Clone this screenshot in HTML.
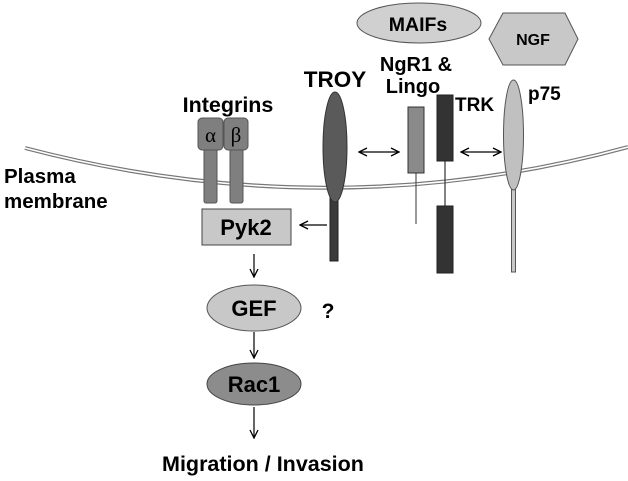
<!DOCTYPE html>
<html><head><meta charset="utf-8"><style>
body{margin:0;background:#fff}
svg{display:block;font-family:"Liberation Sans",Arial,sans-serif;font-weight:bold}
</style></head><body>
<svg width="628" height="481" viewBox="0 0 628 481">
<defs><marker id="ah" markerWidth="10" markerHeight="10" refX="9" refY="5" orient="auto-start-reverse" markerUnits="userSpaceOnUse"><path d="M1,1 L9,5 L1,9" fill="none" stroke="#000" stroke-width="1.3"/></marker></defs>
<g>
<path d="M25,148 Q330,228 628,147" fill="none" stroke="#777" stroke-width="4"/>
<path d="M25,148 Q330,228 628,147" fill="none" stroke="#fff" stroke-width="1.6"/>
</g>
<text x="4" y="183" font-size="20.5">Plasma</text>
<text x="4" y="208" font-size="20.5">membrane</text>
<text x="228" y="112" font-size="21.5" text-anchor="middle">Integrins</text>
<g>
<rect x="204" y="146" width="13" height="57" rx="2" fill="#7f7f7f" stroke="#555"/>
<rect x="198" y="118" width="25" height="32" rx="4" fill="#7f7f7f" stroke="#555"/>
<text x="210.5" y="142" font-size="21" font-weight="normal" font-family="Liberation Serif,serif" text-anchor="middle">α</text></g>
<g>
<rect x="230" y="146" width="13" height="57" rx="2" fill="#7f7f7f" stroke="#555"/>
<rect x="224" y="118" width="24" height="32" rx="4" fill="#7f7f7f" stroke="#555"/>
<text x="236" y="142" font-size="21" font-weight="normal" font-family="Liberation Serif,serif" text-anchor="middle">β</text></g>
<rect x="202" y="209" width="89" height="36" fill="#c8c8c8" stroke="#444"/>
<text x="246" y="235" font-size="22" text-anchor="middle">Pyk2</text>
<line x1="327" y1="225" x2="300" y2="225" stroke="#000" stroke-width="1.3" marker-end="url(#ah)"/>
<text x="335" y="87" font-size="22.5" text-anchor="middle">TROY</text>
<rect x="330" y="196" width="8" height="65" fill="#3a3a3a" stroke="#222"/>
<ellipse cx="335" cy="147" rx="12" ry="55" fill="#5a5a5a" stroke="#333"/>
<line x1="359" y1="152" x2="399" y2="152" stroke="#000" stroke-width="1.3" marker-start="url(#ah)" marker-end="url(#ah)"/>
<ellipse cx="419" cy="23" rx="62" ry="20" fill="#d0d0d0" stroke="#555"/>
<text x="418" y="31" font-size="19.5" text-anchor="middle">MAIFs</text>
<text x="416" y="71" font-size="20" text-anchor="middle">NgR1 &amp;</text>
<text x="413" y="93" font-size="20" text-anchor="middle">Lingo</text>
<line x1="416" y1="173" x2="416" y2="224" stroke="#555" stroke-width="1.2"/>
<rect x="408" y="107" width="16" height="66" fill="#8a8a8a" stroke="#333"/>
<line x1="445" y1="161" x2="445" y2="206" stroke="#333" stroke-width="1.2"/>
<rect x="437" y="95" width="16" height="66" fill="#333" stroke="#222"/>
<rect x="437" y="206" width="16" height="67" fill="#333" stroke="#222"/>
<text x="455" y="111" font-size="19">TRK</text>
<line x1="461" y1="152" x2="501" y2="152" stroke="#000" stroke-width="1.3" marker-start="url(#ah)" marker-end="url(#ah)"/>
<polygon points="489,39 503,13 565,13 578,39 565,65 503,65" fill="#c8c8c8" stroke="#555"/>
<text x="533" y="45" font-size="16" text-anchor="middle">NGF</text>
<rect x="511.5" y="185" width="4" height="87" fill="#c8c8c8" stroke="#555"/>
<ellipse cx="513.5" cy="135" rx="10" ry="55" fill="#c0c0c0" stroke="#555"/>
<text x="528" y="100" font-size="19">p75</text>
<line x1="254" y1="254" x2="254" y2="277" stroke="#000" stroke-width="1.2" marker-end="url(#ah)"/>
<ellipse cx="254" cy="308" rx="47" ry="23" fill="#c8c8c8" stroke="#555"/>
<text x="254" y="316" font-size="22" text-anchor="middle">GEF</text>
<text x="328" y="318" font-size="21" text-anchor="middle">?</text>
<line x1="254" y1="332" x2="254" y2="358" stroke="#000" stroke-width="1.2" marker-end="url(#ah)"/>
<ellipse cx="254" cy="384" rx="47" ry="21" fill="#8c8c8c" stroke="#444"/>
<text x="254" y="392" font-size="22" text-anchor="middle">Rac1</text>
<line x1="254" y1="407" x2="254" y2="438" stroke="#000" stroke-width="1.2" marker-end="url(#ah)"/>
<text x="263" y="471" font-size="21.5" text-anchor="middle">Migration / Invasion</text>
</svg>
</body></html>
